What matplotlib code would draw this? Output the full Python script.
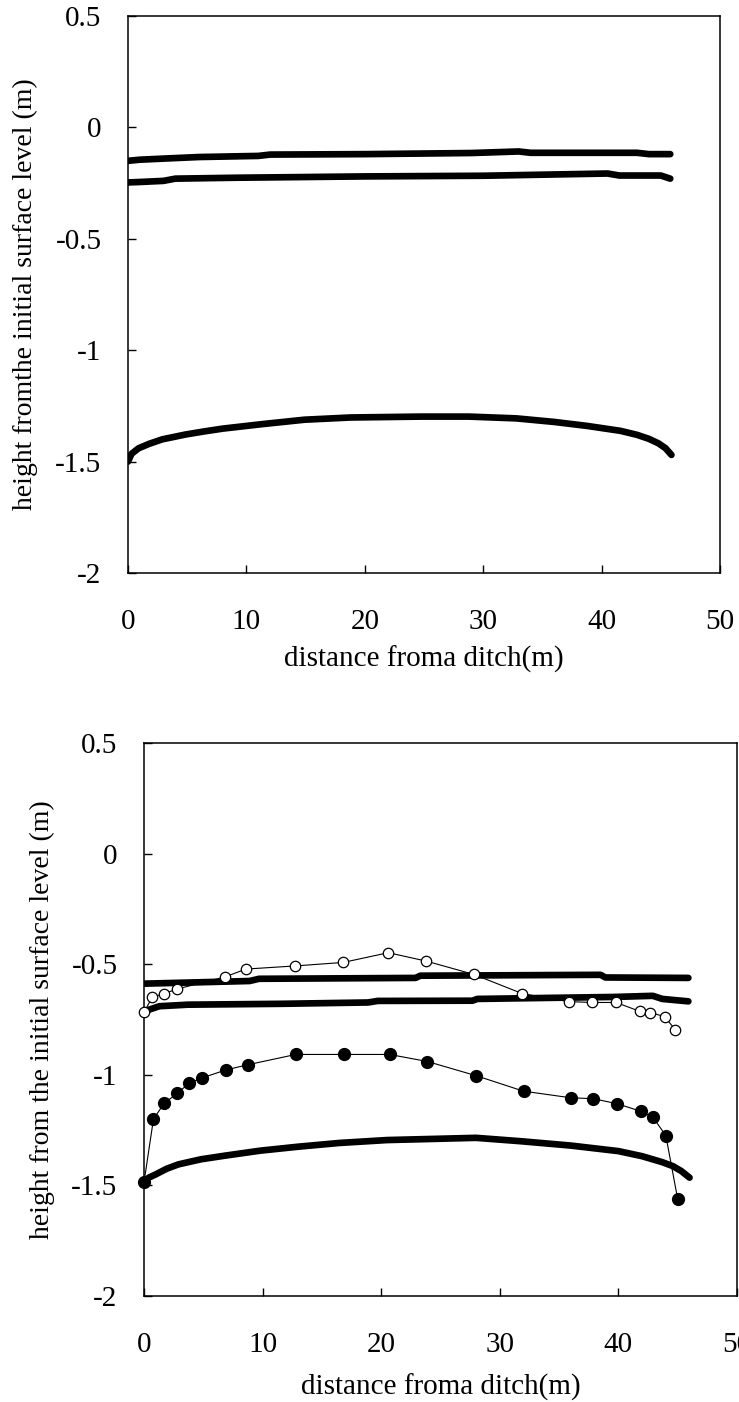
import matplotlib
matplotlib.use("Agg")
import matplotlib.pyplot as plt

# ---------------- data ----------------
# Top panel: three thick lines
top_xA = [0, 1, 3, 6, 11, 12, 20, 29, 33, 34, 43, 44, 45.8]
top_yA = [-0.15, -0.145, -0.14, -0.133, -0.128, -0.122, -0.12, -0.115, -0.108, -0.114, -0.114, -0.12, -0.12]

top_xB = [0, 1, 3, 4, 9, 20, 30, 40.5, 41.5, 45, 45.8]
top_yB = [-0.247, -0.245, -0.24, -0.23, -0.226, -0.22, -0.217, -0.207, -0.216, -0.216, -0.23]

top_xC = [0, 0.3, 0.9, 1.8, 2.9, 4.9, 6.5, 8, 11.3, 14.9, 18.8, 24.8, 28.8, 32.8, 36, 38.8,
          41.6, 43, 44, 44.8, 45.4, 45.9]
top_yC = [-1.50, -1.465, -1.44, -1.42, -1.40, -1.378, -1.364, -1.352, -1.332, -1.312, -1.302,
          -1.298, -1.298, -1.306, -1.322, -1.34, -1.362, -1.38, -1.398, -1.418, -1.44, -1.47]

# Bottom panel: three thick lines
bot_xA = [0, 3, 8.9, 9.7, 22.9, 23.3, 38.5, 38.9, 45.9]
bot_yA = [-0.588, -0.584, -0.576, -0.566, -0.562, -0.552, -0.548, -0.56, -0.562]

bot_xB = [0, 1.3, 3.7, 11.7, 18.9, 19.7, 27.7, 28.1, 39.7, 42.9, 43.7, 45.9]
bot_yB = [-0.713, -0.69, -0.683, -0.679, -0.673, -0.666, -0.665, -0.657, -0.648, -0.643, -0.657, -0.668]

bot_xC = [0, 0.4, 1, 1.9, 2.9, 4.8, 6.9, 9.8, 13, 16.5, 20.5, 28, 31.7, 36, 40, 42, 43.7,
          44.6, 45.3, 46]
bot_yC = [-1.486, -1.465, -1.45, -1.425, -1.405, -1.382, -1.365, -1.343, -1.325, -1.308,
          -1.295, -1.285, -1.30, -1.32, -1.345, -1.368, -1.395, -1.413, -1.435, -1.465]

# Bottom panel: measured points
open_x = [0, 0.7, 1.7, 2.8, 6.8, 8.6, 12.7, 16.8, 20.6, 23.8, 27.8, 31.9, 35.8, 37.8, 39.8,
          41.8, 42.7, 43.9, 44.8]
open_y = [-0.717, -0.649, -0.633, -0.612, -0.558, -0.522, -0.508, -0.492, -0.448, -0.486,
          -0.546, -0.633, -0.669, -0.673, -0.673, -0.713, -0.719, -0.737, -0.797]

fill_x = [0, 0.8, 1.7, 2.8, 3.8, 4.9, 6.9, 8.8, 12.8, 16.9, 20.7, 23.9, 28.0, 32.0, 36.0,
          37.9, 39.9, 41.9, 42.9, 44.0, 45.0]
fill_y = [-1.486, -1.20, -1.129, -1.084, -1.038, -1.014, -0.978, -0.954, -0.908, -0.908,
          -0.908, -0.940, -1.004, -1.074, -1.104, -1.108, -1.131, -1.165, -1.191, -1.275, -1.562]

x_ticks = [0, 10, 20, 30, 40, 50]
y_ticks = [0.5, 0, -0.5, -1, -1.5, -2]
y_ticklabels = ["0.5", "0", "-0.5", "-1", "-1.5", "-2"]

xlabel_text = "distance froma ditch(m)"
ylabel_top = "height fromthe initial surface level (m)"
ylabel_bot = "height from the initial surface level (m)"

# ---------------- style ----------------
plt.rcParams["font.family"] = ["Liberation Serif", "DejaVu Serif"]
plt.rcParams["axes.unicode_minus"] = False

W, H = 739, 1402
fig = plt.figure(figsize=(W / 100, H / 100), dpi=100)

def px_axes(left, top, right, bottom):
    return fig.add_axes([left / W, 1 - bottom / H, (right - left) / W, (bottom - top) / H])

ax1 = px_axes(128, 16, 720, 573)
ax2 = px_axes(144, 743, 737, 1296)

THICK = 4.8
for ax in (ax1, ax2):
    ax.set_xlim(0, 50)
    ax.set_ylim(-2, 0.5)
    ax.set_xticks(x_ticks)
    ax.set_xticklabels([str(t) for t in x_ticks])
    ax.set_yticks(y_ticks)
    ax.set_yticklabels(y_ticklabels)
    ax.tick_params(direction="in", length=6, width=1, labelsize=21,
                   top=False, right=False)
    ax.tick_params(axis="y", pad=19)
    ax.tick_params(axis="x", pad=26)
    for s in ax.spines.values():
        s.set_linewidth(1.1)
    ax.set_xlabel(xlabel_text, fontsize=21)

ax1.set_ylabel(ylabel_top, fontsize=20)
ax2.set_ylabel(ylabel_bot, fontsize=20)
ax1.yaxis.set_label_coords(-0.152, 0.5)
ax2.yaxis.set_label_coords(-0.150, 0.5)
ax1.xaxis.set_label_coords(0.5, -0.130)
ax2.xaxis.set_label_coords(0.5, -0.140)

kw = dict(color="black", lw=THICK, solid_capstyle="round", solid_joinstyle="round", zorder=2)
ax1.plot(top_xA, top_yA, **kw)
ax1.plot(top_xB, top_yB, **kw)
ax1.plot(top_xC, top_yC, **kw)

ax2.plot(bot_xA, bot_yA, **kw)
ax2.plot(bot_xB, bot_yB, **kw)
ax2.plot(bot_xC, bot_yC, **kw)

ax2.plot(open_x, open_y, color="black", lw=0.8, marker="o", ms=7.5, mfc="white",
         mec="black", mew=0.9, zorder=3, clip_on=False)
ax2.plot(fill_x, fill_y, color="black", lw=0.8, marker="o", ms=8.5, mfc="black",
         mec="black", zorder=3, clip_on=False)

fig.savefig("out.png", dpi=100)
